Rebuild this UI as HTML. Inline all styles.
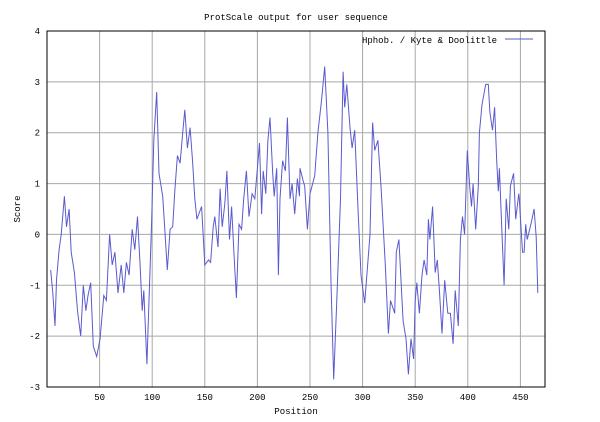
<!DOCTYPE html>
<html><head><meta charset="utf-8"><style>
html,body{margin:0;padding:0;background:#fff;}
svg{display:block;font-family:"Liberation Mono","DejaVu Sans Mono",monospace;}
</style></head><body>
<svg id="chart" width="600" height="422" viewBox="0 0 600 422">
<text x="296" y="20" font-size="9" text-anchor="middle" fill="#000">ProtScale output for user sequence</text>
<g id="grid"></g>
<g id="ticks"></g>
<rect x="47" y="31" width="498" height="356" fill="none" stroke="#000" stroke-width="1"/>
<text x="20" y="209" font-size="9" text-anchor="middle" transform="rotate(-90 20 209)">Score</text>
<text x="296" y="414" font-size="9" text-anchor="middle">Position</text>
<g>
<text x="497" y="43" font-size="9" text-anchor="end">Hphob. / Kyte &amp; Doolittle</text>
<line x1="505" y1="39" x2="533" y2="39" stroke="#5a5acf" stroke-width="1"/>
</g>
<polyline id="series" fill="none" stroke="#5a5acf" stroke-width="1"/>
</svg>
<script>
const xTicks = [50,100,150,200,250,300,350,400,450];
const yTicks = [-3,-2,-1,0,1,2,3,4];
const positions = [3.5,5.5,7.6,9,11.5,13.5,16.5,18.5,21,23,26,29,32,34.5,37,39,41.5,44,47.2,50.5,54,56.5,59.5,62,64.5,67.5,70.5,73,75.5,78,81,83.5,86,88.5,90.5,92,95,97,99.5,101.5,104.3,106.5,110,112,114.4,117,119.5,121.5,124,126.5,129,131,133.5,136,138.5,140.5,142.5,147,150,153.5,155.5,158,159.5,162.5,164.5,166.5,169,171,173.5,175.5,178,180,182.5,185,187,189.5,192,195,197.5,200,202,204,205.5,208,210,212,214.5,216,218.3,220,221.5,224,226.6,228.5,231,233,235.5,238,240,240.5,243.5,245,247.5,250,254.5,257.5,261,264,267,270,272.5,275.5,279,281.5,283,285,288,290,292.5,295.5,298.5,302,307,309.5,311.5,314.5,317.5,321.6,324.5,326.5,330.5,332,334.5,338.5,341.3,343.5,346,348.5,350,351.5,354,356.5,358.5,361,362.5,364,366.5,369,371,373,375.5,378,381,383.5,386,388,391,393,395,397,399.5,402,403.5,405,407.5,410,411,413.5,417,419.5,421,423.5,425.5,427.5,429,430,431.5,434.5,436.5,439,440.5,443.5,445.5,448.5,449,452,453.5,455,456.5,460,463,465,466.5];
const scores = [-0.7,-1.15,-1.8,-0.9,-0.3,0,0.75,0.15,0.5,-0.35,-0.75,-1.5,-2.0,-1.0,-1.5,-1.2,-0.95,-2.2,-2.4,-2.05,-1.2,-1.3,0,-0.6,-0.35,-1.15,-0.6,-1.15,-0.55,-0.8,0.1,-0.3,0.35,-0.6,-1.5,-1.1,-2.55,-1.3,0.3,1.85,2.8,1.2,0.75,0.1,-0.7,0.1,0.15,0.85,1.55,1.4,2.0,2.45,1.7,2.1,1.4,0.7,0.3,0.55,-0.6,-0.5,-0.55,0.15,0.35,-0.25,0.9,0.15,0.6,1.25,-0.1,0.55,-0.5,-1.25,0.2,0.1,0.7,1.25,0.35,0.8,0.7,1.3,1.8,0.4,1.25,0.8,1.85,2.3,1.2,0.75,1.3,-0.8,0.7,1.45,1.25,2.3,0.7,1.0,0.4,1.1,0.75,1.3,1.05,0.95,0.1,0.8,1.15,2.0,2.65,3.3,2.0,-0.95,-2.85,-1.3,0.7,3.2,2.5,2.95,2.1,1.7,2.05,0.55,-0.8,-1.35,0,2.2,1.65,1.85,0.95,-0.6,-1.95,-1.3,-1.55,-0.35,-0.1,-1.7,-2.05,-2.75,-2.05,-2.45,-1.3,-0.95,-1.55,-0.8,-0.5,-0.8,0.3,-0.1,0.55,-0.75,-0.5,-1.1,-1.95,-0.9,-1.55,-1.55,-2.15,-1.1,-1.8,-0.1,0.35,0,1.65,0.9,0.55,1.0,0.1,0.95,2.0,2.55,2.95,2.95,2.4,2.05,2.5,1.45,0.85,1.3,0.55,-1.0,0.7,0.1,0.95,1.2,0.3,0.8,0.7,-0.35,-0.35,0.2,-0.1,0.2,0.5,-0.05,-1.15,-0.75];

const NS = "http://www.w3.org/2000/svg";
const L=47,R=545,T=31,B=387;
const xMin=0,xMax=(R-L)/1.052;
const yMin=-3,yMax=4;
const xs = v => L + (v-xMin)/(xMax-xMin)*(R-L);
const ys = v => B - (v-yMin)/(yMax-yMin)*(B-T);
const grid=document.getElementById('grid'), ticks=document.getElementById('ticks');
function mk(tag, attrs){const e=document.createElementNS(NS,tag);for(const k in attrs)e.setAttribute(k,attrs[k]);return e;}
xTicks.forEach(t=>{
  const x=xs(t);
  const g=mk('line',{x1:x,y1:T,x2:x,y2:B,stroke:'#a8a8a8','stroke-width':1});
  
  
  grid.appendChild(g);
  const lb=mk('text',{x:x,y:B+13,'font-size':9,'text-anchor':'middle'});
  lb.textContent=t;
  
  
  ticks.appendChild(lb);
});
yTicks.forEach(t=>{
  const y=ys(t);
  if(t>yMin && t<yMax){
    const g=mk('line',{x1:L,y1:y,x2:R,y2:y,stroke:'#a8a8a8','stroke-width':1});
    
    
    grid.appendChild(g);
  }
  const lb=mk('text',{x:40,y:y+3,'font-size':9,'text-anchor':'end'});
  lb.textContent=t;
  
  
  ticks.appendChild(lb);
});
document.getElementById('series').setAttribute('points', positions.map((p,i)=>xs(p).toFixed(1)+','+ys(scores[i]).toFixed(1)).join(' '));
</script>
</body></html>
